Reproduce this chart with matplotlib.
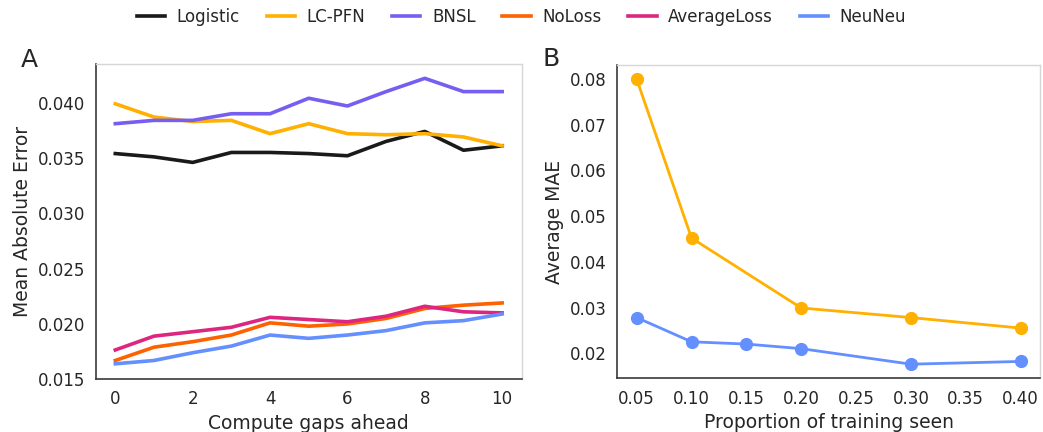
import matplotlib
matplotlib.use("Agg")
import matplotlib.pyplot as plt

plt.rcParams['font.family'] = ['DejaVu Sans']
plt.rcParams['text.color'] = '#262626'
plt.rcParams['axes.labelcolor'] = '#262626'
plt.rcParams['xtick.color'] = '#262626'
plt.rcParams['ytick.color'] = '#262626'

# ---- Panel A data ----
gaps = [0, 1, 2, 3, 4, 5, 6, 7, 8, 9, 10]
logistic = [0.0354, 0.0351, 0.0346, 0.0355, 0.0355, 0.0354, 0.0352, 0.0365, 0.0374, 0.0357, 0.0361]
lcpfn = [0.0399, 0.0387, 0.0383, 0.0384, 0.0372, 0.0381, 0.0372, 0.0371, 0.0372, 0.0369, 0.0361]
bnsl = [0.0381, 0.0384, 0.0384, 0.0390, 0.0390, 0.0404, 0.0397, 0.0410, 0.0422, 0.0410, 0.0410]
noloss = [0.0167, 0.0179, 0.0184, 0.0190, 0.0201, 0.0198, 0.0200, 0.0205, 0.0214, 0.0217, 0.0219]
averageloss = [0.01765, 0.0189, 0.0193, 0.0197, 0.0206, 0.0204, 0.0202, 0.0207, 0.0216, 0.0211, 0.0210]
neuneu = [0.0164, 0.0167, 0.0174, 0.0180, 0.0190, 0.0187, 0.0190, 0.0194, 0.0201, 0.0203, 0.0209]

# ---- Panel B data ----
prop_lcpfn = [0.05, 0.10, 0.20, 0.30, 0.40]
mae_lcpfn = [0.0800, 0.0452, 0.0299, 0.0278, 0.0255]
prop_neuneu = [0.05, 0.10, 0.15, 0.20, 0.30, 0.40]
mae_neuneu = [0.0278, 0.0225, 0.0220, 0.0210, 0.0176, 0.0182]
xticks_b = [0.05, 0.10, 0.15, 0.20, 0.25, 0.30, 0.35, 0.40]

names = ['Logistic', 'LC-PFN', 'BNSL', 'NoLoss', 'AverageLoss', 'NeuNeu']
colors = {'Logistic': '#1a1a1a', 'LC-PFN': '#FFB000', 'BNSL': '#785EF0',
          'NoLoss': '#FE6100', 'AverageLoss': '#DC267F', 'NeuNeu': '#648FFF'}
series_a = [logistic, lcpfn, bnsl, noloss, averageloss, neuneu]

fig = plt.figure(figsize=(10.43, 4.32), dpi=100)
axA = fig.add_axes([0.092, 0.122, 0.408, 0.730])
axB = fig.add_axes([0.592, 0.124, 0.405, 0.726])

handles = []
for name, vals in zip(names, series_a):
    h, = axA.plot(gaps, vals, color=colors[name], lw=2.6, label=name)
    handles.append(h)
axA.set_ylim(0.015, 0.0435)
axA.set_yticks([0.015, 0.020, 0.025, 0.030, 0.035, 0.040])
axA.set_xticks([0, 2, 4, 6, 8, 10])
axA.set_xlabel('Compute gaps ahead', fontsize=13.5)
axA.set_ylabel('Mean Absolute Error', fontsize=13.5)

axB.plot(prop_lcpfn, mae_lcpfn, color=colors['LC-PFN'], lw=2.0, marker='o', markersize=8.5)
axB.plot(prop_neuneu, mae_neuneu, color=colors['NeuNeu'], lw=2.0, marker='o', markersize=8.5)
axB.set_xticks(xticks_b)
axB.set_xticklabels([f'{v:.2f}' for v in xticks_b])
axB.set_yticks([0.02, 0.03, 0.04, 0.05, 0.06, 0.07, 0.08])
axB.set_xlabel('Proportion of training seen', fontsize=13.5)
axB.set_ylabel('Average MAE', fontsize=13.5)

for ax in (axA, axB):
    ax.tick_params(length=0, labelsize=12, pad=8)
    for s in ('left', 'bottom'):
        ax.spines[s].set_color('#3a3a3a')
        ax.spines[s].set_linewidth(1.2)
    for s in ('top', 'right'):
        ax.spines[s].set_color('#d6d6d6')
        ax.spines[s].set_linewidth(1.0)

fig.text(0.020, 0.860, 'A', fontsize=18, va='center', ha='left')
fig.text(0.520, 0.863, 'B', fontsize=18, va='center', ha='left')

fig.legend(handles=handles, labels=names, loc='center', bbox_to_anchor=(0.5, 0.96),
           ncol=6, frameon=False, fontsize=12, handlelength=1.7, columnspacing=1.6,
           handletextpad=0.7)

fig.savefig('out.png', dpi=100)
